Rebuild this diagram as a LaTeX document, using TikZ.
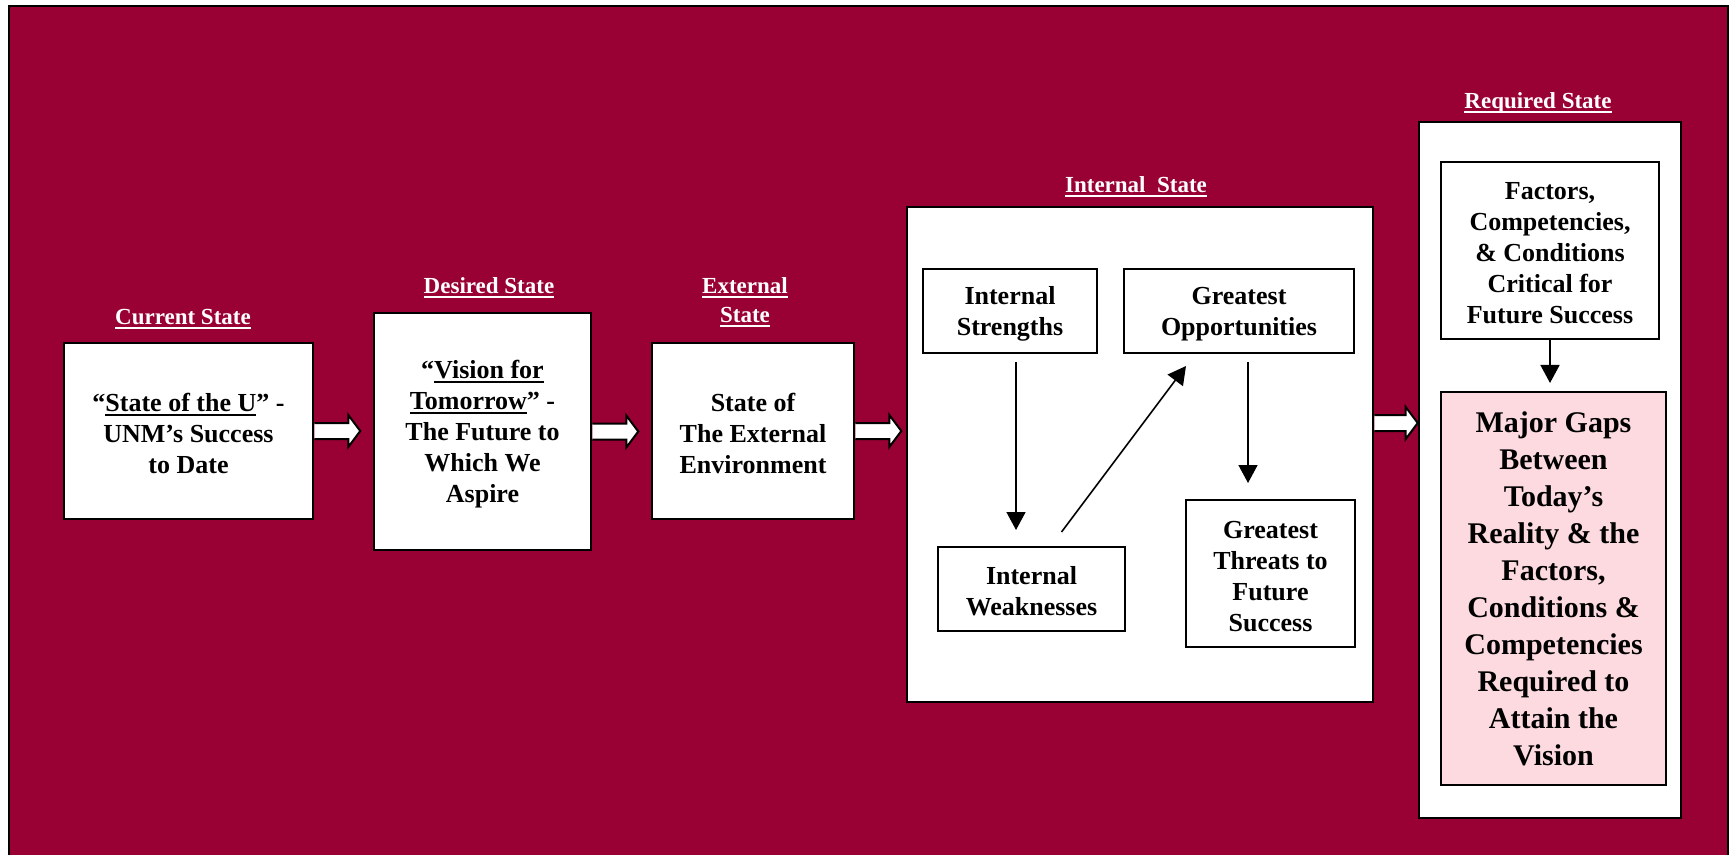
\documentclass[tikz,border=0pt]{standalone}
\usepackage{fontspec}
\setmainfont{Liberation Serif}
\usetikzlibrary{calc,arrows.meta}
\pgfdeclarelayer{bg}\pgfdeclarelayer{arr}
\pgfsetlayers{bg,arr,main}
\definecolor{unmred}{RGB}{153,0,51}
\definecolor{gappink}{RGB}{252,218,224}
\newcommand\ulw[1]{\setbox0\hbox{#1}\rlap{\rule[-2.2pt]{\wd0}{1pt}}\box0}
\newcommand\tp{\rule{0pt}{11.5pt}}
\newcommand\blockarr[2]{\draw[blk] ($(#1)+(0,-8)$) -- ($(#2)+(-12,-8)$) -- ($(#2)+(-12,-16)$) -- (#2) -- ($(#2)+(-12,16)$) -- ($(#2)+(-12,8)$) -- ($(#1)+(0,8)$);}
\begin{document}
\begin{tikzpicture}[x=0.5pt,y=-0.5pt,
 box/.style={draw=black,fill=white,line width=1.3pt,inner sep=0pt,align=center,font=\fontsize{13}{15.5}\selectfont\bfseries},
 ibox/.style={box,line width=1pt},
 lbl/.style={text=white,align=center,inner sep=0pt,font=\fontsize{11.5}{14.5}\selectfont\bfseries},
 conn/.style={line width=0.8pt,-{Triangle[length=9pt,width=9.5pt]}},
 blk/.style={draw=black,fill=white,line width=1pt,line join=miter}]

\useasboundingbox (0,0) rectangle (1733,855);
\begin{pgfonlayer}{bg}
\fill[white] (0,0) rectangle (1733,855);
\draw[fill=unmred,line width=1.2pt] (9,6) rectangle (1728,880);
\end{pgfonlayer}

% labels
\node[lbl] (lcur) at (183,319) {\ulw{Current State}};
\node[lbl] (ldes) at (489,288) {\ulw{Desired State}};
\node[lbl] (lext) at (745,302) {\ulw{External}\\\ulw{State}};
\node[lbl] (lint) at (1136,187) {\ulw{Internal\ \ State}};
\node[lbl] (lreq) at (1538,103) {\ulw{Required State}};

% main boxes
\node[box,minimum width=124.5pt,minimum height=88pt] (cur) at (188.5,431)
  {\tp“\ulw{State of the U}” -\\UNM’s Success\\to Date};
\node[box,minimum width=108.5pt,minimum height=118.5pt] (des) at (482.5,431.5)
  {\tp“\ulw{Vision for}\\\ulw{Tomorrow}” -\\The Future to\\Which We\\Aspire};
\node[box,minimum width=101pt,minimum height=88pt] (ext) at (753,431)
  {\tp State of\\The External\\Environment};
\node[box,minimum width=233pt,minimum height=247.5pt] (intbig) at (1140,454.5) {};
\node[box,minimum width=131pt,minimum height=348pt] (req) at (1550,470) {};

% internal boxes
\node[ibox,minimum width=87pt,minimum height=42pt] (str) at (1010,311) {\tp Internal\\Strengths};
\node[ibox,minimum width=115pt,minimum height=42pt] (opp) at (1239,311) {\tp Greatest\\Opportunities};
\node[ibox,minimum width=93.5pt,minimum height=42pt] (weak) at (1031.5,589) {\tp Internal\\Weaknesses};
\node[ibox,minimum width=84.5pt,minimum height=73.5pt] (thr) at (1270.5,573.5) {\tp Greatest\\Threats to\\Future\\Success};

% required boxes
\node[ibox,minimum width=109pt,minimum height=88.5pt] (fac) at (1550,250.5)
  {\tp Factors,\\Competencies,\\\& Conditions\\Critical for\\Future Success};
\node[ibox,fill=gappink,minimum width=112.5pt,minimum height=196.5pt,font=\fontsize{15}{18.5}\selectfont\bfseries] (maj) at (1553.5,588.5)
  {Major Gaps\\Between\\Today’s\\Reality \& the\\Factors,\\Conditions \&\\Competencies\\Required to\\Attain the\\Vision};

% thin arrows
\draw[conn] ($(str.south)+(6,8)$) -- ($(str.south |- weak.north)+(6,-16)$);
\draw[conn] ($(weak.north)+(30,-14)$) -- ($(opp.south)+(-53,12)$);
\draw[conn] ($(opp.south)+(9,8)$) -- ($(opp.south |- thr.north)+(9,-16)$);
\draw[conn] (fac.south) -- ($(fac.south |- maj.north)+(0,-8)$);

% block arrows (46 px long)
\coordinate (a1e) at ($(cur.east)+(46,0)$);
\coordinate (a2e) at ($(des.east)+(46,0)$);
\coordinate (a3e) at ($(ext.east)+(46,0)$);
\coordinate (a4s) at ($(intbig.east)+(0,-31.5)$);
\coordinate (a4e) at (a4s -| req.west);
\begin{pgfonlayer}{arr}
\blockarr{cur.east}{a1e}
\blockarr{des.east}{a2e}
\blockarr{ext.east}{a3e}
\blockarr{a4s}{a4e}
\end{pgfonlayer}
\end{tikzpicture}
\end{document}
